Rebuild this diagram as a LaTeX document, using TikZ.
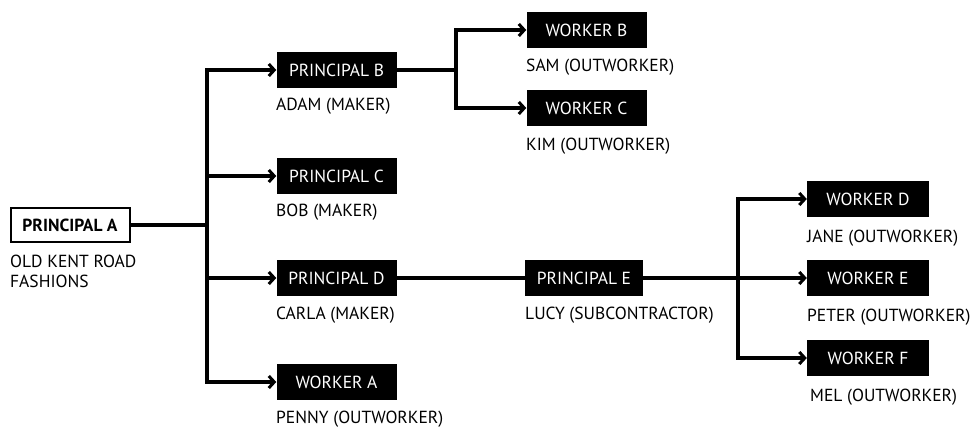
\documentclass[tikz,border=0pt]{standalone}
\usepackage{fontspec}
\setmainfont{PT Sans}
\usetikzlibrary{arrows.meta}
\begin{document}
\begin{tikzpicture}[x=1pt,y=-1pt,
  font=\fontsize{17.5}{20}\selectfont,
  blk/.style={fill=black,text=white,minimum width=120pt,minimum height=36pt,inner sep=0pt},
  topbox/.style={draw=black,line width=2pt,fill=white,text=black,minimum width=119pt,minimum height=34pt,inner sep=0pt,font=\fontsize{17.5}{20}\selectfont\bfseries},
  lbl/.style={anchor=west,inner sep=0pt},
  conn/.style={line width=3.2pt,line join=miter},
  arr/.style={conn,-{Straight Barb[length=5.5pt,width=12pt,line width=3pt]}}]
\useasboundingbox (0,0) rectangle (971,428);
% boxes
\node[topbox] (A) at (70,225) {PRINCIPAL A};
\node[lbl,anchor=north west,align=left] (Al) at (10,255) {OLD KENT ROAD\\FASHIONS};
\node[blk] (B) at (336.5,70) {PRINCIPAL B};
\node[lbl] (Bl) at (276,106) {ADAM (MAKER)};
\node[blk] (C) at (336.5,176) {PRINCIPAL C};
\node[lbl] (Cl) at (276,212) {BOB (MAKER)};
\node[blk] (D) at (336.5,278) {PRINCIPAL D};
\node[lbl] (Dl) at (276,315) {CARLA (MAKER)};
\node[blk] (WA) at (336.5,382) {WORKER A};
\node[lbl] (WAl) at (276,419) {PENNY (OUTWORKER)};
\node[blk] (WB) at (586.5,30) {WORKER B};
\node[lbl] (WBl) at (526,67) {SAM (OUTWORKER)};
\node[blk] (WC) at (586.5,108) {WORKER C};
\node[lbl] (WCl) at (526,146) {KIM (OUTWORKER)};
\node[blk,minimum width=118pt] (E) at (584,278) {PRINCIPAL E};
\node[lbl] (El) at (525,315) {LUCY (SUBCONTRACTOR)};
\node[blk,minimum width=122pt] (WD) at (868,199) {WORKER D};
\node[lbl] (WDl) at (807,238) {JANE (OUTWORKER)};
\node[blk,minimum width=122pt] (WE) at (868,278) {WORKER E};
\node[lbl] (WEl) at (807,317) {PETER (OUTWORKER)};
\node[blk,minimum width=122pt] (WF) at (868,358) {WORKER F};
\node[lbl] (WFl) at (810,397) {MEL (OUTWORKER)};
% junctions
\coordinate (tA) at (207,225);
\coordinate (tB) at (456,70);
\coordinate (tE) at (738,278);
% connectors
\draw[conn] (A.east) -- (tA);
\draw[arr] (tA) |- (B.west);
\draw[arr] (tA) |- (C.west);
\draw[arr] (tA) |- (D.west);
\draw[arr] (tA) |- (WA.west);
\draw[conn] (B.east) -- (tB);
\draw[arr] (tB) |- (WB.west);
\draw[arr] (tB) |- (WC.west);
\draw[conn] (D.east) -- (E.west);
\draw[conn] (E.east) -- (tE);
\draw[arr] (tE) |- (WD.west);
\draw[arr] (tE) -- (WE.west);
\draw[arr] (tE) |- (WF.west);
\end{tikzpicture}
\end{document}
